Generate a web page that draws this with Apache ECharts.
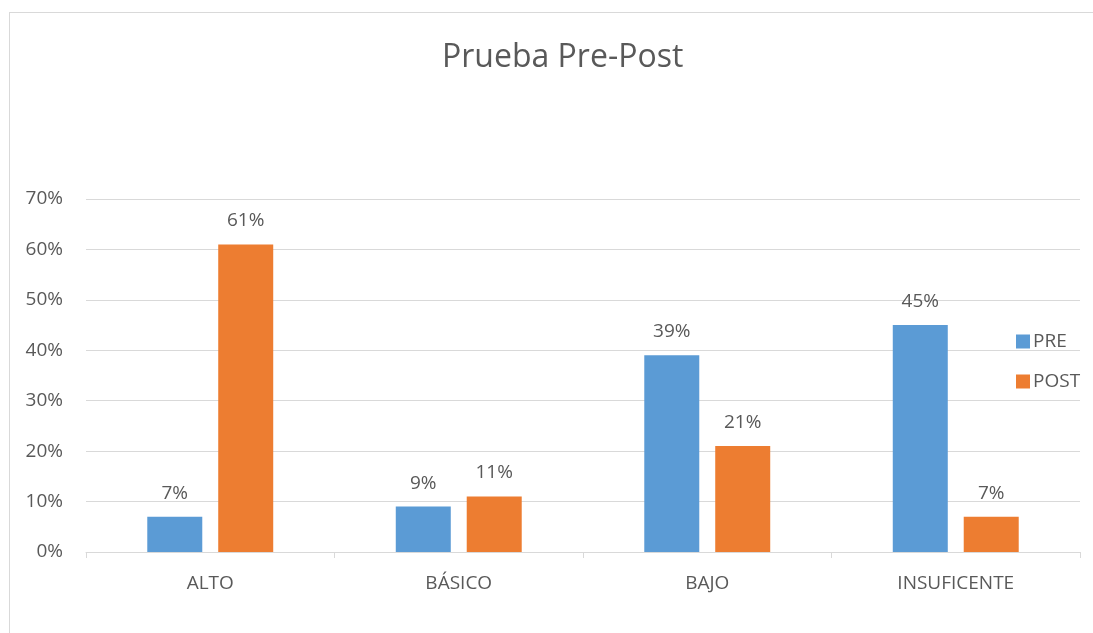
<!DOCTYPE html>
<html>
<head>
<meta charset="utf-8">
<script src="https://cdn.jsdelivr.net/npm/echarts@6/dist/echarts.min.js"></script>
<style>
  html, body { margin: 0; padding: 0; background: #fff; overflow: hidden; }
  #frame { position: absolute; left: 9px; top: 12px; width: 1110px; height: 650px; border: 1px solid #d9d9d9; }
  #chart { position: absolute; left: 0; top: 0; width: 1093px; height: 633px; }
</style>
</head>
<body>
<div id="frame"></div>
<div id="chart"></div>
<script>
const categories = ['ALTO', 'BÁSICO', 'BAJO', 'INSUFICENTE'];
const preValues = [7, 9, 39, 45];
const postValues = [61, 11, 21, 7];
const yTicks = [0, 10, 20, 30, 40, 50, 60, 70];

const chart = echarts.init(document.getElementById('chart'));
const textColor = '#595959';
const font = 'Open Sans, Noto Sans, sans-serif';

chart.setOption({
    backgroundColor: 'transparent',
    textStyle: { fontFamily: font },
    title: {
        text: 'Prueba Pre-Post',
        left: 437, top: 37,
        textStyle: { color: textColor, fontSize: 32, fontWeight: 'normal', fontFamily: font }
    },
    legend: {
        orient: 'vertical',
        left: 1011, top: 327,
        itemWidth: 14, itemHeight: 14, itemGap: 21,
        icon: 'rect',
        textStyle: { color: textColor, fontSize: 19, padding: [0, 0, 0, -2] },
        data: ['PRE', 'POST']
    },
    grid: { left: 86, right: 13, top: 199, bottom: 81 },
    xAxis: {
        type: 'category',
        data: categories,
        axisLine: { lineStyle: { color: '#d9d9d9', width: 1 } },
        axisTick: { show: true, length: 6, lineStyle: { color: '#d9d9d9' } },
        axisLabel: { color: textColor, fontSize: 19, margin: 22 }
    },
    yAxis: {
        type: 'value',
        min: yTicks[0], max: yTicks[yTicks.length - 1], interval: 10,
        axisLine: { show: false },
        axisTick: { show: false },
        axisLabel: { color: textColor, fontSize: 19, margin: 23, formatter: '{value}%' },
        splitLine: { lineStyle: { color: '#d9d9d9', width: 1 } }
    },
    series: [
        {
            name: 'PRE', type: 'bar', data: preValues,
            barWidth: 55, barGap: '29%',
            itemStyle: { color: '#5b9bd5' },
            label: { show: true, position: 'top', distance: 14, formatter: '{c}%', color: textColor, fontSize: 19 }
        },
        {
            name: 'POST', type: 'bar', data: postValues,
            barWidth: 55,
            itemStyle: { color: '#ed7d31' },
            label: { show: true, position: 'top', distance: 14, formatter: '{c}%', color: textColor, fontSize: 19 }
        }
    ]
});
</script>
</body>
</html>
